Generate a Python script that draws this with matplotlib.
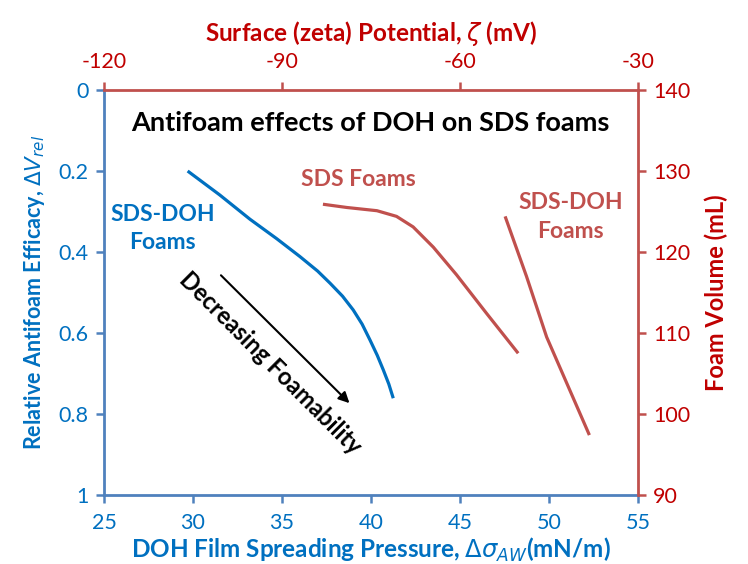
import matplotlib
matplotlib.use("Agg")
import matplotlib.pyplot as plt

# ── Data ──────────────────────────────────────────────────────────────────────
# blue: SDS-DOH foams, bottom x (spreading pressure) vs left y (efficacy)
blue_x = [29.7, 31.5, 33.2, 34.7, 36.0, 37.0, 37.7, 38.4, 39.0, 39.5, 39.94, 40.35, 40.69, 41.0, 41.25]
blue_y = [0.20, 0.259, 0.319, 0.367, 0.411, 0.447, 0.477, 0.509, 0.543, 0.578, 0.617, 0.655, 0.691, 0.726, 0.761]

# red: SDS foams, top x (zeta potential) vs right y (foam volume)
sds_zeta = [-83.1, -79.1, -74.0, -70.7, -67.9, -64.5, -60.6, -55.5, -50.2]
sds_vol = [125.9, 125.5, 125.1, 124.4, 123.1, 120.6, 117.2, 112.4, 107.5]

# red: SDS-DOH foams, top x vs right y
sdsdoh_zeta = [-52.4, -48.8, -45.4, -38.2]
sdsdoh_vol = [124.4, 117.0, 109.5, 97.4]

bottom_ticks = [25, 30, 35, 40, 45, 50, 55]
left_ticks = [0, 0.2, 0.4, 0.6, 0.8, 1]
left_labels = ["0", "0.2", "0.4", "0.6", "0.8", "1"]
top_ticks = [-120, -90, -60, -30]
right_ticks = [90, 100, 110, 120, 130, 140]

# ── Style ─────────────────────────────────────────────────────────────────────
BLUE = "#0070C0"
BLUE_AX = "#4F81BD"
RED = "#C0504D"
DRED = "#C00000"
FONT = ["Lato", "DejaVu Sans"]

plt.rcParams["font.family"] = FONT
plt.rcParams["mathtext.fontset"] = "dejavusans"
plt.rcParams["axes.unicode_minus"] = False

fig = plt.figure(figsize=(7.48, 5.64), dpi=100)
ax = fig.add_axes([0.139, 0.1223, 0.714, 0.7181])
ax2 = ax.twinx()
ax3 = ax2.twiny()

# blue curve
ax.plot(blue_x, blue_y, color=BLUE, lw=2.3, solid_capstyle="butt")
ax.set_xlim(25, 55)
ax.set_ylim(1, 0)
ax.set_xticks(bottom_ticks)
ax.set_yticks(left_ticks)
ax.set_yticklabels(left_labels)

# red curves
ax3.plot(sds_zeta, sds_vol, color=RED, lw=2.3, solid_capstyle="butt")
ax3.plot(sdsdoh_zeta, sdsdoh_vol, color=RED, lw=2.3, solid_capstyle="butt")
ax3.set_xlim(-120, -30)
ax2.set_ylim(90, 140)
ax3.set_xticks(top_ticks)
ax2.set_yticks(right_ticks)

# spines
for a in (ax, ax2, ax3):
    for s in a.spines.values():
        s.set_visible(False)
for a, s, c in ((ax, "left", BLUE_AX), (ax, "bottom", BLUE_AX),
                (ax2, "right", RED), (ax3, "top", RED)):
    a.spines[s].set_visible(True)
    a.spines[s].set_color(c)
    a.spines[s].set_linewidth(2.0)

ax.tick_params(axis="both", colors=BLUE_AX, labelcolor=BLUE, labelsize=15.5,
               length=6, width=1.8, direction="out")
ax.tick_params(axis="y", pad=5)
ax.tick_params(axis="x", pad=7)
ax2.tick_params(axis="y", colors=RED, labelcolor=DRED, labelsize=15.5,
                length=6, width=1.8, direction="out", pad=5)
ax3.tick_params(axis="x", colors=RED, labelcolor=DRED, labelsize=15.5,
                length=6, width=1.8, direction="out", pad=7)

# axis labels
ax.set_xlabel(r"DOH Film Spreading Pressure, $\mathit{\Delta\sigma_{AW}}$(mN/m)",
              color=BLUE, fontsize=17.5, fontweight="bold", labelpad=2)
ax.set_ylabel(r"Relative Antifoam Efficacy, $\mathit{\Delta V_{rel}}$",
              color=BLUE, fontsize=15.5, fontweight="bold", labelpad=8)
ax2.set_ylabel("Foam Volume (mL)", color=DRED, fontsize=17,
               fontweight="bold", labelpad=10)
ax3.set_xlabel(r"Surface (zeta) Potential, $\mathit{\zeta}$ (mV)", color=DRED,
               fontsize=17.5, fontweight="bold", labelpad=8)

# annotations
ax.text(0.498, 0.9185, "Antifoam effects of DOH on SDS foams",
        transform=ax.transAxes, ha="center", va="center",
        fontsize=19.5, fontweight="bold", color="black")
ax.text(0.110, 0.658, "SDS-DOH\nFoams", transform=ax.transAxes,
        ha="center", va="center", fontsize=16.5, fontweight="bold",
        color=BLUE, linespacing=1.45)
ax.text(0.4757, 0.780, "SDS Foams", transform=ax.transAxes,
        ha="center", va="center", fontsize=16.5, fontweight="bold", color=RED)
ax.text(0.874, 0.686, "SDS-DOH\nFoams", transform=ax.transAxes,
        ha="center", va="center", fontsize=16.5, fontweight="bold",
        color=RED, linespacing=1.45)
ax.annotate("", xy=(38.9, 0.778), xytext=(31.46, 0.4526),
            arrowprops=dict(arrowstyle="-|>", color="black", lw=1.5,
                            mutation_scale=16))
ax.text(0.311, 0.326, "Decreasing Foamability", transform=ax.transAxes,
        ha="center", va="center", fontsize=17, fontweight="bold",
        color="black", rotation=-45, rotation_mode="anchor")

fig.savefig("out.png", dpi=100)
